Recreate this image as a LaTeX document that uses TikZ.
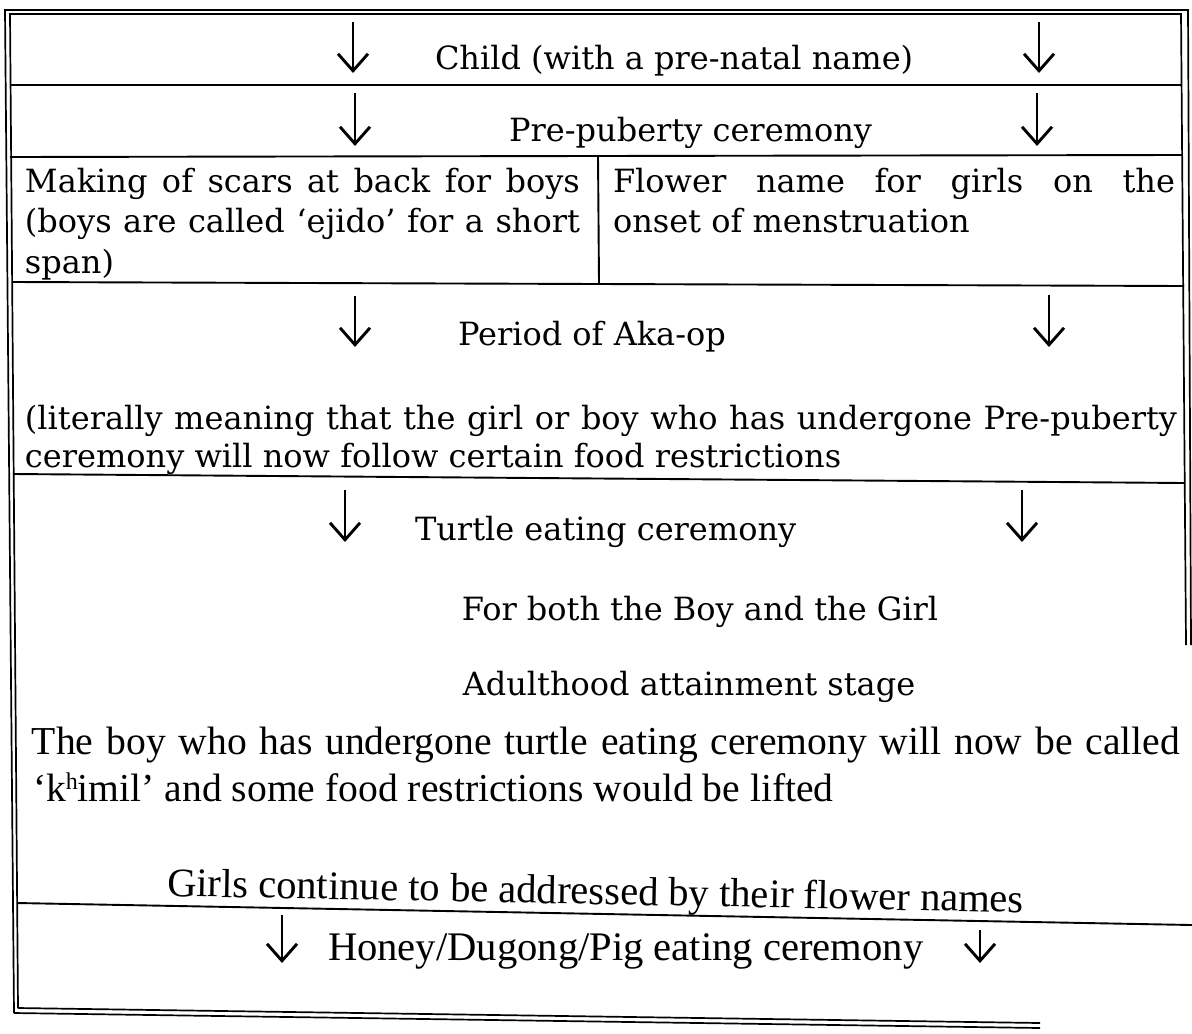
\documentclass[tikz,border=0pt]{standalone}
\usepackage{fontspec}
\setmainfont{Liberation Serif}
\newfontfamily\geo{DejaVu Serif}
\newfontfamily\tnr{Liberation Serif}
\usetikzlibrary{arrows.meta}
\begin{document}
\begin{tikzpicture}[x=0.5pt,y=-0.5pt,
  frame/.style={line width=0.85pt},
  rulel/.style={line width=0.95pt},
  darr/.style={line width=1.45pt,-{Straight Barb[length=8.5pt,width=15pt]}},
  gtxt/.style={inner sep=0pt,outer sep=0pt,font=\geo\fontsize{16pt}{19pt}\selectfont},
  ttxt/.style={inner sep=0pt,outer sep=0pt,font=\tnr\fontsize{19.8pt}{24pt}\selectfont},
  tbig/.style={inner sep=0pt,outer sep=0pt,font=\tnr\fontsize{20.3pt}{24pt}\selectfont}]
\useasboundingbox[fill=white] (0,0) rectangle (1192,1033);

% outer double frame
\draw[frame] (14,1013) -- (5,10) -- (1188,10) -- (1191,645);
\draw[frame] (18,1008) -- (10,14) -- (1181,14) -- (1186,645);
\draw[frame] (14,1013) -- (1040,1028);
\draw[frame] (18,1008) -- (1040,1023);

% row dividers
\draw[rulel] (10,85) -- (1181,85);
\draw[rulel] (10,157) -- (1182,155);
\draw[rulel] (12,282) -- (1184,286);
\draw[rulel] (13,474) -- (1185,483);
\draw[rulel] (17,903) -- (1192,925);
% column divider
\draw[rulel] (598,156) -- (599,284);

% arrows
\coordinate (a1ls) at (353,22);  \coordinate (a1le) at (353,73);
\coordinate (a1rs) at (1039,22); \coordinate (a1re) at (1039,73);
\coordinate (a2ls) at (355,93);  \coordinate (a2le) at (355,146);
\coordinate (a2rs) at (1037,93); \coordinate (a2re) at (1037,146);
\coordinate (a4ls) at (355,296); \coordinate (a4le) at (355,347);
\coordinate (a4rs) at (1049,295); \coordinate (a4re) at (1049,347);
\coordinate (a5ls) at (345,490); \coordinate (a5le) at (345,542);
\coordinate (a5rs) at (1022,490); \coordinate (a5re) at (1022,542);
\coordinate (a6ls) at (282,915); \coordinate (a6le) at (282,963);
\coordinate (a6rs) at (980,930); \coordinate (a6re) at (980,963);
\foreach \a in {a1l,a1r,a2l,a2r,a4l,a4r,a5l,a5r,a6l,a6r}
  \draw[darr] (\a s) -- (\a e);

% texts
\node[gtxt,anchor=base west] (t1) at (435,69) {Child (with a pre-natal name)};
\node[gtxt,anchor=base east] (t2) at (872,141) {Pre-puberty ceremony};
\node[gtxt,anchor=base west] (t3a) at (25,192) {\makebox[277.5pt][s]{Making of scars at back for boys}};
\node[gtxt,anchor=base west] (t3b) at (25,232) {\makebox[277.5pt][s]{(boys are called ‘ejido’ for a short}};
\node[gtxt,anchor=base west] (t3c) at (25,273) {span)};
\node[gtxt,anchor=base west] (t3d) at (613,192) {\makebox[281pt][s]{Flower name for girls on the}};
\node[gtxt,anchor=base west] (t3e) at (613,232) {onset of menstruation};
\node[gtxt,anchor=base west] (t4) at (458,345) {Period of Aka-op};
\node[gtxt,anchor=base west] (t4b) at (25,429) {\makebox[576pt][s]{(literally meaning that the girl or boy who has undergone Pre-puberty}};
\node[gtxt,anchor=base west] (t4c) at (25,467) {ceremony will now follow certain food restrictions};
\node[gtxt,anchor=base west] (t5) at (415,540) {Turtle eating ceremony};
\node[gtxt,anchor=base] (t5b) at (700,620) {For both the Boy and the Girl};
\node[gtxt,anchor=base] (t5c) at (689,695) {Adulthood attainment stage};
\node[ttxt,anchor=base west] (t6) at (32,754) {\makebox[574pt][s]{The boy who has undergone turtle eating ceremony will now be called}};
\node[ttxt,anchor=base west] (t6b) at (33,801) {‘k\raisebox{0.3em}{\fontsize{12pt}{12pt}\selectfont h}imil’ and some food restrictions would be lifted};
\node[tbig,anchor=base west,rotate=-1.1] (t7) at (167,896) {Girls continue to be addressed by their flower names};
\node[tbig,anchor=base west] (t8) at (328,960) {Honey/Dugong/Pig eating ceremony};
\end{tikzpicture}
\end{document}
